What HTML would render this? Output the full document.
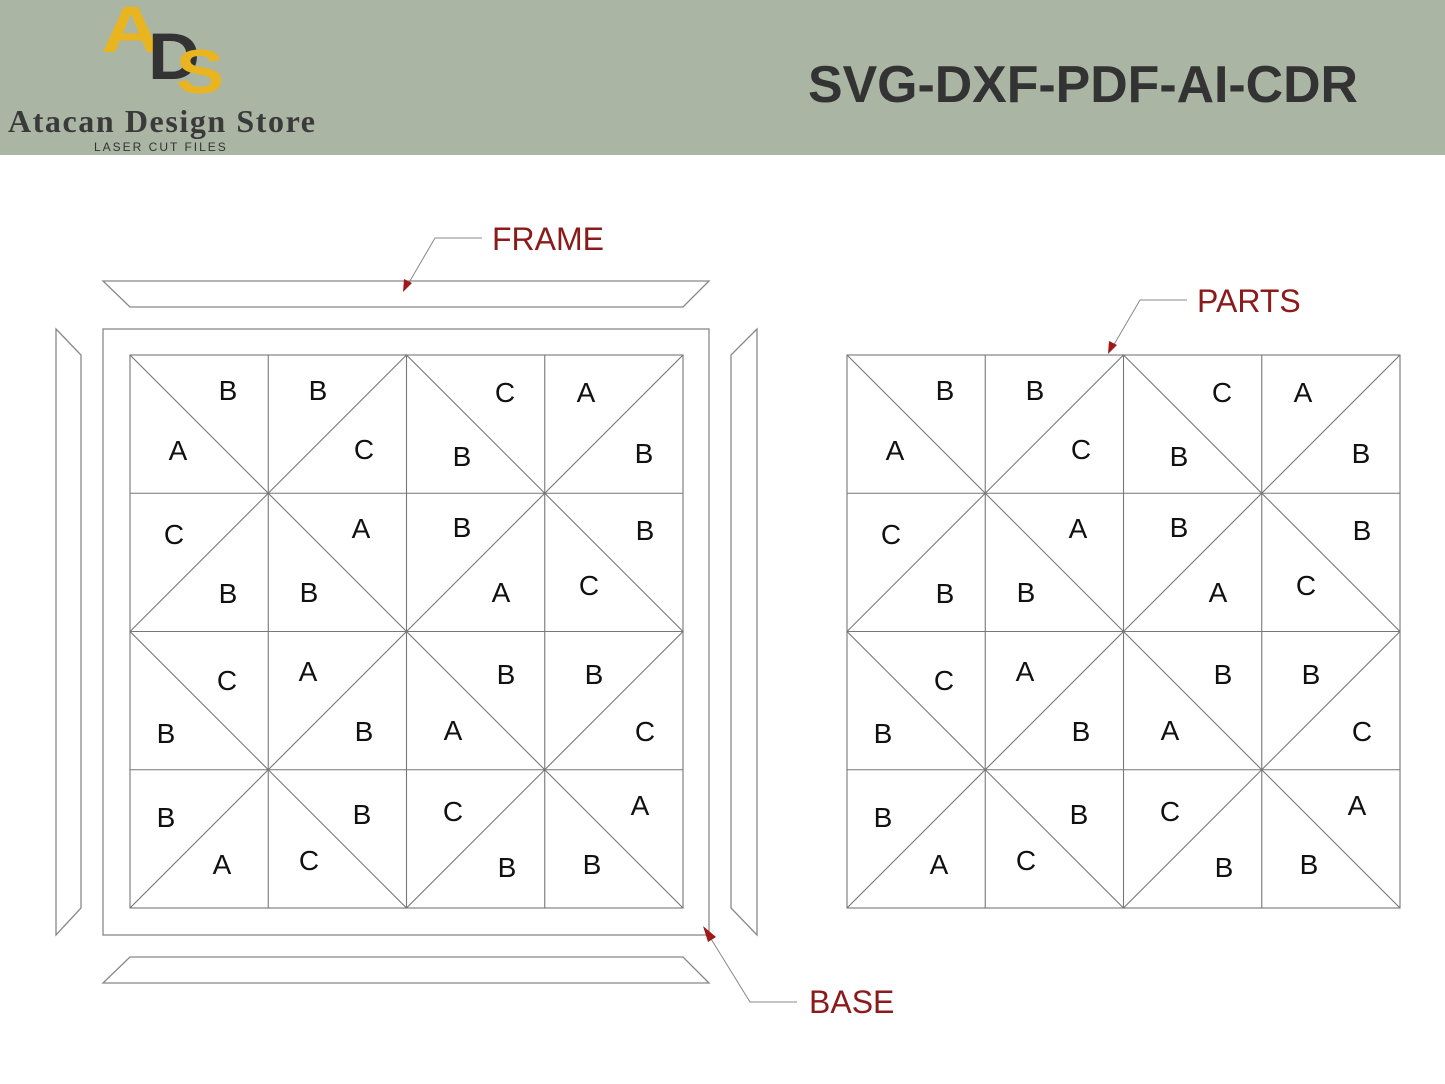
<!DOCTYPE html>
<html><head><meta charset="utf-8"><style>
body{margin:0;width:1445px;height:1084px;overflow:hidden;background:#fff}
svg{display:block}
</style></head><body>
<svg width="1445" height="1084" viewBox="0 0 1445 1084" xmlns="http://www.w3.org/2000/svg" font-family="Liberation Sans, sans-serif">
<rect x="0" y="0" width="1445" height="155" fill="#aab5a4"/>
<text x="101" y="52" font-size="66" font-weight="bold" fill="#e8b420" textLength="60" lengthAdjust="spacingAndGlyphs">A</text>
<text x="148" y="79" font-size="66" font-weight="bold" fill="#333" textLength="52" lengthAdjust="spacingAndGlyphs">D</text>
<text x="176" y="93" font-size="62" font-weight="bold" fill="#e8b420" textLength="48" lengthAdjust="spacingAndGlyphs">S</text>
<text x="8" y="132" font-size="32" font-weight="bold" fill="#3a3a3a" font-family="Liberation Serif, serif" textLength="307">Atacan Design Store</text>
<text x="94" y="151" font-size="12" fill="#333" letter-spacing="2">LASER CUT FILES</text>
<text x="808" y="102" font-size="52" font-weight="bold" fill="#333" textLength="550" lengthAdjust="spacingAndGlyphs">SVG-DXF-PDF-AI-CDR</text>

<g fill="none" stroke="#888" stroke-width="1.3">
<polygon points="103,281 709,281 683,307 130,307"/>
<rect x="103" y="329" width="606" height="606"/>
<polygon points="56,329 81,355 81,908 56,935"/>
<polygon points="757,329 731,355 731,908 757,935"/>
<polygon points="130,957 683,957 709,983 103,983"/>
</g>

<defs>
<g id="grid" fill="none" stroke="#777" stroke-width="1.1">
<rect x="0" y="0" width="553" height="553"/>
<line x1="138.25" y1="0" x2="138.25" y2="553"/><line x1="276.5" y1="0" x2="276.5" y2="553"/><line x1="414.75" y1="0" x2="414.75" y2="553"/>
<line x1="0" y1="138.25" x2="553" y2="138.25"/><line x1="0" y1="276.5" x2="553" y2="276.5"/><line x1="0" y1="414.75" x2="553" y2="414.75"/>
<polyline points="0,0 276.5,276.5 553,0"/>
<polyline points="0,553 276.5,276.5 553,553"/>
<polygon points="0,276.5 138.25,138.25 276.5,0 414.75,138.25 553,276.5 414.75,414.75 276.5,553 138.25,414.75"/>
</g>
<g id="lbl" font-size="28" fill="#111" text-anchor="middle">
<text x="98" y="45">B</text><text x="48" y="105">A</text><text x="188" y="45">B</text><text x="234" y="104">C</text><text x="375" y="47">C</text><text x="332" y="111">B</text><text x="456" y="47">A</text><text x="514" y="108">B</text>
<text x="44" y="189">C</text><text x="98" y="248">B</text><text x="231" y="183">A</text><text x="179" y="247">B</text><text x="332" y="182">B</text><text x="371" y="247">A</text><text x="515" y="185">B</text><text x="459" y="240">C</text>
<text x="97" y="335">C</text><text x="36" y="388">B</text><text x="178" y="326">A</text><text x="234" y="386">B</text><text x="376" y="329">B</text><text x="323" y="385">A</text><text x="464" y="329">B</text><text x="515" y="386">C</text>
<text x="36" y="472">B</text><text x="92" y="519">A</text><text x="232" y="469">B</text><text x="179" y="515">C</text><text x="323" y="466">C</text><text x="377" y="522">B</text><text x="510" y="460">A</text><text x="462" y="519">B</text>
</g>
</defs>
<g transform="translate(130,355)"><use href="#grid"/><use href="#lbl"/></g>
<g transform="translate(847,355)"><use href="#grid"/><use href="#lbl"/></g>

<g stroke="#888" stroke-width="1" fill="none">
<polyline points="482,238 435,238 407,286"/>
<polyline points="1187,300 1140,300 1112,348"/>
<polyline points="797,1002 750,1002 708,934"/>
</g>
<g fill="#a01818">
<polygon points="403,292 404,279 412,283"/>
<polygon points="1108,354 1109,341 1117,345"/>
<polygon points="703,926 716,937 708,942"/>
</g>
<g font-size="32" fill="#8b1a1a">
<text x="492" y="250">FRAME</text>
<text x="1197" y="312">PARTS</text>
<text x="809" y="1013">BASE</text>
</g>
</svg>
</body></html>
